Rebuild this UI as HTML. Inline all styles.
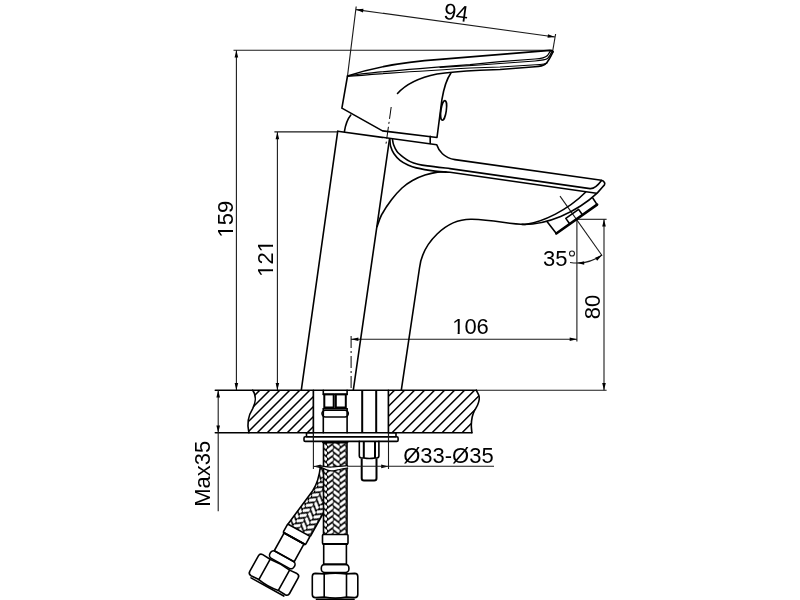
<!DOCTYPE html>
<html><head><meta charset="utf-8"><style>
html,body{margin:0;padding:0;background:#fff;width:800px;height:600px;overflow:hidden}
svg{display:block}
text{font-family:"Liberation Sans",sans-serif;fill:#000}
svg{will-change:transform}
.o{stroke:#000;stroke-width:1.6;fill:none;stroke-linejoin:round;stroke-linecap:round}
.d{stroke:#1a1a1a;stroke-width:1.1;fill:none}
.c{stroke:#000;stroke-width:1;fill:none;stroke-dasharray:12 3 2 3}
.o1{stroke:#000;stroke-width:1.25;fill:none;stroke-linejoin:round;stroke-linecap:round}
.o2{stroke:#000;stroke-width:2;fill:none}
.o3{stroke:#000;stroke-width:2.6;fill:none;stroke-linecap:round}
.h{stroke:#000;stroke-width:1.5;fill:none}
.ar{fill:#000;stroke:none}
</style></head><body>
<svg width="800" height="600" viewBox="0 0 800 600">
<line class="d" x1="356.20" y1="6.50" x2="347.50" y2="76.00"/>
<line class="d" x1="555.60" y1="34.00" x2="552.80" y2="50.30"/>
<line class="d" x1="356.00" y1="9.60" x2="555.00" y2="37.00"/>
<polygon class="ar" points="356.00,9.60 363.48,8.81 362.99,12.38"/>
<polygon class="ar" points="555.00,37.00 547.52,37.79 548.01,34.22"/>
<text x="0" y="0" font-size="22" text-anchor="middle" transform="translate(455.00 20.50) rotate(7.90) scale(1 1.045)">94</text>
<line class="d" x1="233.50" y1="50.20" x2="552.50" y2="50.20"/>
<line class="d" x1="236.40" y1="50.20" x2="236.40" y2="390.20"/>
<polygon class="ar" points="236.40,50.20 238.20,57.50 234.60,57.50"/>
<polygon class="ar" points="236.40,390.20 234.60,382.90 238.20,382.90"/>
<clipPath id="tc1"><path clip-rule="evenodd" d="M-23.35,-26.40 H23.35 V11.00 H-23.35 Z M-17.74,-2.24 H-12.87 V1.20 H-17.74 Z M-10.83,-2.24 H-6.13 V1.20 H-10.83 Z"/></clipPath>
<text x="0" y="0" font-size="22" text-anchor="middle" transform="translate(233.20 219.20) rotate(-90.00) scale(1 1.045)" clip-path="url(#tc1)">159</text>
<line class="d" x1="274.40" y1="131.90" x2="337.70" y2="131.90"/>
<line class="d" x1="277.40" y1="131.90" x2="277.40" y2="390.20"/>
<polygon class="ar" points="277.40,131.90 279.20,139.20 275.60,139.20"/>
<polygon class="ar" points="277.40,390.20 275.60,382.90 279.20,382.90"/>
<clipPath id="tc2"><path clip-rule="evenodd" d="M-23.35,-26.40 H23.35 V11.00 H-23.35 Z M-17.74,-2.24 H-12.87 V1.20 H-17.74 Z M-10.83,-2.24 H-6.13 V1.20 H-10.83 Z M6.73,-2.24 H11.60 V1.20 H6.73 Z M13.64,-2.24 H18.34 V1.20 H13.64 Z"/></clipPath>
<text x="0" y="0" font-size="22" text-anchor="middle" transform="translate(273.00 258.40) rotate(-90.00) scale(1 1.045)" clip-path="url(#tc2)">121</text>
<line class="o" x1="215.30" y1="390.20" x2="476.30" y2="390.20"/>
<line class="d" x1="476.30" y1="390.30" x2="606.60" y2="390.30"/>
<line class="o" x1="215.30" y1="432.80" x2="313.40" y2="432.80"/>
<line class="o" x1="388.40" y1="432.80" x2="471.90" y2="432.80"/>
<line class="d" x1="218.20" y1="390.20" x2="218.20" y2="511.30"/>
<polygon class="ar" points="218.20,390.20 220.00,397.50 216.40,397.50"/>
<polygon class="ar" points="218.20,432.80 216.40,425.50 220.00,425.50"/>
<text x="0" y="0" font-size="22" text-anchor="middle" transform="translate(210.30 473.70) rotate(-90.00) scale(1 1.045)">Max35</text>
<line class="d" x1="351.10" y1="339.30" x2="577.00" y2="339.30"/>
<polygon class="ar" points="351.10,339.30 358.40,337.50 358.40,341.10"/>
<polygon class="ar" points="577.00,339.30 569.70,341.10 569.70,337.50"/>
<clipPath id="tc3"><path clip-rule="evenodd" d="M-23.35,-26.40 H23.35 V11.00 H-23.35 Z M-17.74,-2.24 H-12.87 V1.20 H-17.74 Z M-10.83,-2.24 H-6.13 V1.20 H-10.83 Z"/></clipPath>
<text x="0" y="0" font-size="22" text-anchor="middle" transform="translate(470.50 334.00) scale(1 1.045)" clip-path="url(#tc3)">106</text>
<line class="c" x1="351.10" y1="336.00" x2="351.10" y2="390.20"/>
<line class="d" x1="576.90" y1="219.30" x2="576.90" y2="341.50"/>
<line class="d" x1="560.00" y1="196.10" x2="602.00" y2="255.50"/>
<path class="d" d="M570.06,262.46 A43.70,43.70 0 0 0 602.09,255.01"/>
<polygon class="ar" points="576.90,263.00 584.20,261.20 584.20,264.80"/>
<polygon class="ar" points="602.09,255.01 597.16,260.69 595.09,257.75"/>
<text x="0" y="0" font-size="22" text-anchor="end" transform="translate(567.40 265.80) scale(1 1.045)">35</text>
<circle class="d" cx="572" cy="253.5" r="2.5"/>
<line class="d" x1="576.90" y1="219.30" x2="606.60" y2="219.30"/>
<line class="d" x1="604.00" y1="219.30" x2="604.00" y2="390.20"/>
<polygon class="ar" points="604.00,219.30 605.80,226.60 602.20,226.60"/>
<polygon class="ar" points="604.00,390.20 602.20,382.90 605.80,382.90"/>
<text x="0" y="0" font-size="22" text-anchor="middle" transform="translate(599.70 306.90) rotate(-90.00) scale(1 1.045)">80</text>
<line class="d" x1="313.40" y1="390.20" x2="313.40" y2="441.00"/>
<line class="d" x1="388.50" y1="390.20" x2="388.50" y2="441.00"/>
<polygon class="ar" points="313.40,466.40 320.70,464.60 320.70,468.20"/>
<polygon class="ar" points="388.50,466.40 381.20,468.20 381.20,464.60"/>
<text x="0" y="0" font-size="22" text-anchor="start" transform="translate(403.20 462.70) scale(1 1.045)">Ø33-Ø35</text>
<path class="o" d="M347.5,76 C364,70.5 394,62.5 440,59.4 L550,50.4 Q553.2,50.4 553,51.8"/>
<path class="o1" d="M347.5,76 Q370,72 470,64.6 L500,61.6 L535,59 C541,58.6 545,58 547.5,55.5 L550.5,50.8"/>
<path class="o1" d="M440,67.3 L480,65 L500,63.5 L535,61 C541,60.6 545.5,60.3 547.5,58.6 C549.5,56.8 550.8,54 552,51.2"/>
<path class="o1" d="M347.5,76.5 Q372,74 470,68 L500,67 L540,64.5 C543,64.3 545,64 547,63"/>
<path class="o" d="M397.5,93.5 C406,84 420,77.5 437,74 C447,72.5 458,71.5 480,70.3 L500,69.5 L535,66.8 C540,66.4 543,65.8 545.5,64 C548,62 550.5,57 553,51.8"/>
<path class="o" d="M347.5,76 L341.9,108.1 L382.5,130.9 L437,137.5 L441.9,99.6 C443.5,90 446,80 450.8,73.2"/>
<ellipse class="o" cx="443.6" cy="110.4" rx="2.7" ry="9.9" transform="rotate(8 443.6 110.4)"/>
<path class="o" d="M344.4,131.6 Q346,121 350.8,115"/>
<line class="c" x1="391.20" y1="107.00" x2="386.00" y2="144.00"/>
<path class="o" d="M337.7,131.3 L436.75,144.75 C438.5,150.5 444,158 455,159.6 L601.5,180.25 C604,180.8 606.5,184 603,186.5 L597.4,192.9 C576,213 546,225 522,224.4"/>
<line class="o" x1="430.20" y1="136.30" x2="430.20" y2="143.50"/>
<path class="o" d="M337.7,131.3 L301.3,390.2"/>
<path class="o" d="M389.5,139 L353.3,390.2"/>
<path class="o" d="M392.50,139.50 C392.68,140.38 392.85,142.75 393.60,144.75 C394.35,146.75 395.35,149.41 397.00,151.50 C398.65,153.59 401.29,155.62 403.50,157.30 C405.71,158.98 407.83,160.45 410.25,161.60 C412.67,162.75 415.12,163.48 418.00,164.20 C420.88,164.92 422.17,165.17 427.50,165.90 C432.83,166.63 446.25,168.15 450.00,168.60 L590,188.6 C594.5,189 597.5,186 601.5,180.5"/>
<path class="o" d="M389.90,139.50 C390.02,140.62 389.92,143.88 390.60,146.25 C391.28,148.62 392.43,151.41 394.00,153.75 C395.57,156.09 397.75,158.48 400.00,160.30 C402.25,162.12 404.79,163.43 407.50,164.70 C410.21,165.97 411.67,166.83 416.25,167.90 C420.83,168.97 429.38,170.37 435.00,171.10 C440.62,171.83 447.50,172.10 450.00,172.30 L596.5,193.2"/>
<path class="o" d="M446.00,172.10 C444.58,172.10 441.00,171.60 437.50,172.10 C434.00,172.60 429.17,173.70 425.00,175.10 C420.83,176.50 416.33,178.35 412.50,180.50 C408.67,182.65 405.50,184.78 402.00,188.00 C398.50,191.22 394.92,195.30 391.50,199.80 C388.08,204.30 383.88,210.55 381.50,215.00 C379.12,219.45 377.92,224.58 377.20,226.50"/>
<path class="o" d="M401.3,390.2 L419.5,268 C422.5,243 446,218.5 472,219.3 C495,220 510,224.5 525,224.5 C543,222 568,210 585.5,192.3"/>
<path class="o" d="M547,221.6 L556.3,233.5"/>
<path class="o3" d="M556.3,233.5 L597.1,204.6"/>
<path class="o" d="M597.1,204.6 L592.9,198.2"/>
<path class="o" d="M569.6,223.8 L565.8,218.4 L578.6,209.4 L582.4,214.8"/>
<clipPath id="hl"><path d="M252.7,390.2 C257,396 255,404 252.7,408.6 C248,416 247,425 248.9,432.8 L313.4,432.8 L313.4,390.2 Z"/></clipPath>
<clipPath id="hr"><path d="M388.4,390.2 L476.3,390.2 C476.73,391.08 478.42,393.95 478.90,395.50 C479.38,397.05 479.42,397.92 479.20,399.50 C478.98,401.08 478.42,403.08 477.60,405.00 C476.78,406.92 475.20,409.00 474.30,411.00 C473.40,413.00 472.70,414.67 472.20,417.00 C471.70,419.33 471.35,422.37 471.30,425.00 C471.25,427.63 471.80,431.50 471.90,432.80 L388.4,432.8 Z"/></clipPath>
<path class="h" clip-path="url(#hl)" d="M-40.00,440.00 L20.00,380.00 M-30.00,440.00 L30.00,380.00 M-20.00,440.00 L40.00,380.00 M-10.00,440.00 L50.00,380.00 M0.00,440.00 L60.00,380.00 M10.00,440.00 L70.00,380.00 M20.00,440.00 L80.00,380.00 M30.00,440.00 L90.00,380.00 M40.00,440.00 L100.00,380.00 M50.00,440.00 L110.00,380.00 M60.00,440.00 L120.00,380.00 M70.00,440.00 L130.00,380.00 M80.00,440.00 L140.00,380.00 M90.00,440.00 L150.00,380.00 M100.00,440.00 L160.00,380.00 M110.00,440.00 L170.00,380.00 M120.00,440.00 L180.00,380.00 M130.00,440.00 L190.00,380.00 M140.00,440.00 L200.00,380.00 M150.00,440.00 L210.00,380.00 M160.00,440.00 L220.00,380.00 M170.00,440.00 L230.00,380.00 M180.00,440.00 L240.00,380.00 M190.00,440.00 L250.00,380.00 M200.00,440.00 L260.00,380.00 M210.00,440.00 L270.00,380.00 M220.00,440.00 L280.00,380.00 M230.00,440.00 L290.00,380.00 M240.00,440.00 L300.00,380.00 M250.00,440.00 L310.00,380.00 M260.00,440.00 L320.00,380.00 M270.00,440.00 L330.00,380.00 M280.00,440.00 L340.00,380.00 M290.00,440.00 L350.00,380.00 M300.00,440.00 L360.00,380.00 M310.00,440.00 L370.00,380.00 M320.00,440.00 L380.00,380.00 M330.00,440.00 L390.00,380.00 M340.00,440.00 L400.00,380.00 M350.00,440.00 L410.00,380.00 M360.00,440.00 L420.00,380.00 M370.00,440.00 L430.00,380.00 M380.00,440.00 L440.00,380.00 M390.00,440.00 L450.00,380.00 M400.00,440.00 L460.00,380.00 M410.00,440.00 L470.00,380.00 M420.00,440.00 L480.00,380.00 M430.00,440.00 L490.00,380.00 M440.00,440.00 L500.00,380.00 M450.00,440.00 L510.00,380.00 M460.00,440.00 L520.00,380.00 M470.00,440.00 L530.00,380.00 M480.00,440.00 L540.00,380.00 M490.00,440.00 L550.00,380.00 M500.00,440.00 L560.00,380.00 M510.00,440.00 L570.00,380.00 M520.00,440.00 L580.00,380.00 M530.00,440.00 L590.00,380.00 M540.00,440.00 L600.00,380.00 M550.00,440.00 L610.00,380.00"/>
<path class="h" clip-path="url(#hr)" d="M44.80,440.00 L104.80,380.00 M54.80,440.00 L114.80,380.00 M64.80,440.00 L124.80,380.00 M74.80,440.00 L134.80,380.00 M84.80,440.00 L144.80,380.00 M94.80,440.00 L154.80,380.00 M104.80,440.00 L164.80,380.00 M114.80,440.00 L174.80,380.00 M124.80,440.00 L184.80,380.00 M134.80,440.00 L194.80,380.00 M144.80,440.00 L204.80,380.00 M154.80,440.00 L214.80,380.00 M164.80,440.00 L224.80,380.00 M174.80,440.00 L234.80,380.00 M184.80,440.00 L244.80,380.00 M194.80,440.00 L254.80,380.00 M204.80,440.00 L264.80,380.00 M214.80,440.00 L274.80,380.00 M224.80,440.00 L284.80,380.00 M234.80,440.00 L294.80,380.00 M244.80,440.00 L304.80,380.00 M254.80,440.00 L314.80,380.00 M264.80,440.00 L324.80,380.00 M274.80,440.00 L334.80,380.00 M284.80,440.00 L344.80,380.00 M294.80,440.00 L354.80,380.00 M304.80,440.00 L364.80,380.00 M314.80,440.00 L374.80,380.00 M324.80,440.00 L384.80,380.00 M334.80,440.00 L394.80,380.00 M344.80,440.00 L404.80,380.00 M354.80,440.00 L414.80,380.00 M364.80,440.00 L424.80,380.00 M374.80,440.00 L434.80,380.00 M384.80,440.00 L444.80,380.00 M394.80,440.00 L454.80,380.00 M404.80,440.00 L464.80,380.00 M414.80,440.00 L474.80,380.00 M424.80,440.00 L484.80,380.00 M434.80,440.00 L494.80,380.00 M444.80,440.00 L504.80,380.00 M454.80,440.00 L514.80,380.00 M464.80,440.00 L524.80,380.00 M474.80,440.00 L534.80,380.00 M484.80,440.00 L544.80,380.00 M494.80,440.00 L554.80,380.00 M504.80,440.00 L564.80,380.00 M514.80,440.00 L574.80,380.00 M524.80,440.00 L584.80,380.00 M534.80,440.00 L594.80,380.00 M544.80,440.00 L604.80,380.00 M554.80,440.00 L614.80,380.00 M564.80,440.00 L624.80,380.00 M574.80,440.00 L634.80,380.00 M584.80,440.00 L644.80,380.00 M594.80,440.00 L654.80,380.00 M604.80,440.00 L664.80,380.00 M614.80,440.00 L674.80,380.00 M624.80,440.00 L684.80,380.00 M634.80,440.00 L694.80,380.00"/>
<path class="o" d="M252.7,390.2 C257,396 255,404 252.7,408.6 C248,416 247,425 248.9,432.8"/>
<path class="o" d="M476.30,390.20 C476.73,391.08 478.42,393.95 478.90,395.50 C479.38,397.05 479.42,397.92 479.20,399.50 C478.98,401.08 478.42,403.08 477.60,405.00 C476.78,406.92 475.20,409.00 474.30,411.00 C473.40,413.00 472.70,414.67 472.20,417.00 C471.70,419.33 471.35,422.37 471.30,425.00 C471.25,427.63 471.80,431.50 471.90,432.80"/>
<line class="o" x1="313.40" y1="390.20" x2="313.40" y2="432.80"/>
<line class="o" x1="388.40" y1="390.20" x2="388.40" y2="432.80"/>
<path class="o" d="M323.3,390.2 L323.3,394.6 M347.1,390.2 L347.1,394.6 M323.3,408.8 L323.3,432.8 M347.1,408.8 L347.1,432.8"/>
<line class="o" x1="323.30" y1="394.20" x2="347.10" y2="394.20"/>
<rect class="o2" x="324.3" y="394.4" width="9.4" height="13.1"/>
<rect class="o2" x="335.8" y="394.4" width="10.0" height="13.1"/>
<line class="o" x1="323.30" y1="408.80" x2="347.10" y2="408.80"/>
<rect class="o" x="322" y="410.2" width="26.3" height="6.8" rx="3.4" ry="3.4" fill="#fff"/>
<path class="o2" d="M362.2,390.2 L362.2,432.8 M376.2,390.2 L376.2,432.8"/>
<rect class="o" x="306.5" y="432.8" width="89.5" height="3.9" fill="#fff"/>
<rect class="o" x="304" y="436.7" width="94.1" height="4.7" rx="1.2" fill="#fff"/>
<line class="d" x1="313.40" y1="432.80" x2="313.40" y2="441.40"/>
<line class="d" x1="388.50" y1="432.80" x2="388.50" y2="441.40"/>
<path class="o" d="M359.3,441.4 L359.3,455.8 Q359.3,458 361.5,458 L363.8,458 Q369.4,459 375,458 L376.7,458 Q378.9,458 378.9,455.8 L378.9,441.4" fill="#fff"/>
<path class="o2" d="M363.8,441.4 L363.8,458 M375,441.4 L375,458"/>
<path class="o2" d="M361.7,458.5 L361.7,478.3 Q361.7,480.6 364,480.6 L374.2,480.6 Q376.5,480.6 376.5,478.3 L376.5,458.5" fill="#fff"/>
<defs>
<pattern id="braid" width="12.6" height="6" patternUnits="userSpaceOnUse" x="327" y="493.8"><clipPath id="b1_a"><rect x="0.00" y="-1" width="6.30" height="8"/></clipPath><clipPath id="b1_b"><rect x="6.30" y="-1" width="6.30" height="8"/></clipPath><rect width="12.6" height="6" fill="#000"/><path clip-path="url(#b1_a)" fill="#fff" d="M7.04,-9.99 L1.13,-5.54 L-0.74,-8.01 L5.17,-12.46 Z M7.04,-3.99 L1.13,0.46 L-0.74,-2.01 L5.17,-6.46 Z M7.04,2.01 L1.13,6.46 L-0.74,3.99 L5.17,-0.46 Z M7.04,8.01 L1.13,12.46 L-0.74,9.99 L5.17,5.54 Z M7.04,14.01 L1.13,18.46 L-0.74,15.99 L5.17,11.54 Z"/><path clip-path="url(#b1_b)" fill="#fff" d="M11.47,-2.84 L5.56,-7.29 L7.43,-9.76 L13.34,-5.31 Z M11.47,3.16 L5.56,-1.29 L7.43,-3.76 L13.34,0.69 Z M11.47,9.16 L5.56,4.71 L7.43,2.24 L13.34,6.69 Z M11.47,15.16 L5.56,10.71 L7.43,8.24 L13.34,12.69 Z M11.47,21.16 L5.56,16.71 L7.43,14.24 L13.34,18.69 Z"/></pattern>
<pattern id="braid2" width="12.6" height="6" patternUnits="userSpaceOnUse" x="0" y="0" patternTransform="rotate(31 300 510)"><clipPath id="b2_a"><rect x="0.00" y="-1" width="6.30" height="8"/></clipPath><clipPath id="b2_b"><rect x="6.30" y="-1" width="6.30" height="8"/></clipPath><rect width="12.6" height="6" fill="#000"/><path clip-path="url(#b2_a)" fill="#fff" d="M7.04,-9.99 L1.13,-5.54 L-0.74,-8.01 L5.17,-12.46 Z M7.04,-3.99 L1.13,0.46 L-0.74,-2.01 L5.17,-6.46 Z M7.04,2.01 L1.13,6.46 L-0.74,3.99 L5.17,-0.46 Z M7.04,8.01 L1.13,12.46 L-0.74,9.99 L5.17,5.54 Z M7.04,14.01 L1.13,18.46 L-0.74,15.99 L5.17,11.54 Z"/><path clip-path="url(#b2_b)" fill="#fff" d="M11.47,-2.84 L5.56,-7.29 L7.43,-9.76 L13.34,-5.31 Z M11.47,3.16 L5.56,-1.29 L7.43,-3.76 L13.34,0.69 Z M11.47,9.16 L5.56,4.71 L7.43,2.24 L13.34,6.69 Z M11.47,15.16 L5.56,10.71 L7.43,8.24 L13.34,12.69 Z M11.47,21.16 L5.56,16.71 L7.43,14.24 L13.34,18.69 Z"/></pattern>
</defs>
<path d="M320.5,466 C319.5,475 316.5,485 312.7,490.7 L287.7,524.5 L310.5,536 L323.3,513 L323.3,466 Z" fill="url(#braid2)"/>
<path class="o" d="M320.5,466 C319.5,475 316.5,485 312.7,490.7 L287.7,524.5"/>
<path class="o" d="M310.5,536 L323.3,513"/>
<g transform="rotate(29 325.4 462)"><rect class="o" x="322.5" y="534.5" width="25.5" height="9.5" rx="1" fill="#fff"/>
<line class="o2" x1="322.5" y1="544" x2="348" y2="544"/>
<rect class="o" x="323.7" y="544" width="22.7" height="20.4" fill="#fff"/>
<rect class="o" x="321.3" y="564.4" width="27.6" height="8.1" rx="3.5" fill="#fff"/>
<path class="o" fill="#fff" d="M312.3,576.6 Q312.3,573.4 315.5,573.4 L324.2,573.9 Q335.3,572.4 346.5,573.9 L354.6,573.4 Q357.8,573.4 357.8,576.6 L357.8,594.4 Q357.8,597.4 354.6,597.6 L346.5,597.1 Q335.3,599.2 324.2,597.1 L315.5,597.6 Q312.3,597.4 312.3,594.4 Z"/>
<path class="o" d="M324.2,573.9 L324.2,597.1 M346.5,573.9 L346.5,597.1"/>
<path class="o" d="M316.5,599.4 L354,599.4"/></g>
<rect x="323.5" y="442.5" width="23.5" height="92" fill="url(#braid)"/>
<path class="o" d="M323.5,442.5 L323.5,534.5 M347,442.5 L347,534.5 M322.8,442.6 L347.6,442.6"/>
<rect class="o" x="322.5" y="534.5" width="25.5" height="9.5" rx="1" fill="#fff"/>
<line class="o2" x1="322.5" y1="544" x2="348" y2="544"/>
<rect class="o" x="323.7" y="544" width="22.7" height="20.4" fill="#fff"/>
<rect class="o" x="321.3" y="564.4" width="27.6" height="8.1" rx="3.5" fill="#fff"/>
<path class="o" fill="#fff" d="M312.3,576.6 Q312.3,573.4 315.5,573.4 L324.2,573.9 Q335.3,572.4 346.5,573.9 L354.6,573.4 Q357.8,573.4 357.8,576.6 L357.8,594.4 Q357.8,597.4 354.6,597.6 L346.5,597.1 Q335.3,599.2 324.2,597.1 L315.5,597.6 Q312.3,597.4 312.3,594.4 Z"/>
<path class="o" d="M324.2,573.9 L324.2,597.1 M346.5,573.9 L346.5,597.1"/>
<path class="o" d="M316.5,599.4 L354,599.4"/>
<path d="M321.00,465.90 C322.08,466.07 325.67,466.72 327.50,466.90 C329.33,467.08 330.13,467.08 332.00,467.00 C333.87,466.92 336.10,466.62 338.70,466.40 C341.30,466.18 346.12,465.82 347.60,465.70 L347.6,468.2 C347.05,468.25 345.97,468.22 344.30,468.50 C342.63,468.78 339.65,469.50 337.60,469.90 C335.55,470.30 333.68,470.85 332.00,470.90 C330.32,470.95 329.33,470.82 327.50,470.20 C325.67,469.58 322.08,467.70 321.00,467.20 Z" fill="#fff"/>
<path class="o1" d="M321.00,465.90 C322.08,466.07 325.67,466.72 327.50,466.90 C329.33,467.08 330.13,467.08 332.00,467.00 C333.87,466.92 336.10,466.62 338.70,466.40 C341.30,466.18 346.12,465.82 347.60,465.70"/>
<path class="o1" d="M321.00,467.20 C322.08,467.70 325.67,469.58 327.50,470.20 C329.33,470.82 330.32,470.95 332.00,470.90 C333.68,470.85 335.55,470.30 337.60,469.90 C339.65,469.50 342.63,468.78 344.30,468.50 C345.97,468.22 347.05,468.25 347.60,468.20"/>
<line class="d" x1="313.40" y1="441.40" x2="313.40" y2="469.00"/>
<line class="d" x1="388.50" y1="441.40" x2="388.50" y2="469.00"/>
<line class="d" x1="313.40" y1="466.40" x2="321.50" y2="466.40"/>
<line class="d" x1="347.20" y1="466.20" x2="494.00" y2="466.20"/>
</svg>
</body></html>
